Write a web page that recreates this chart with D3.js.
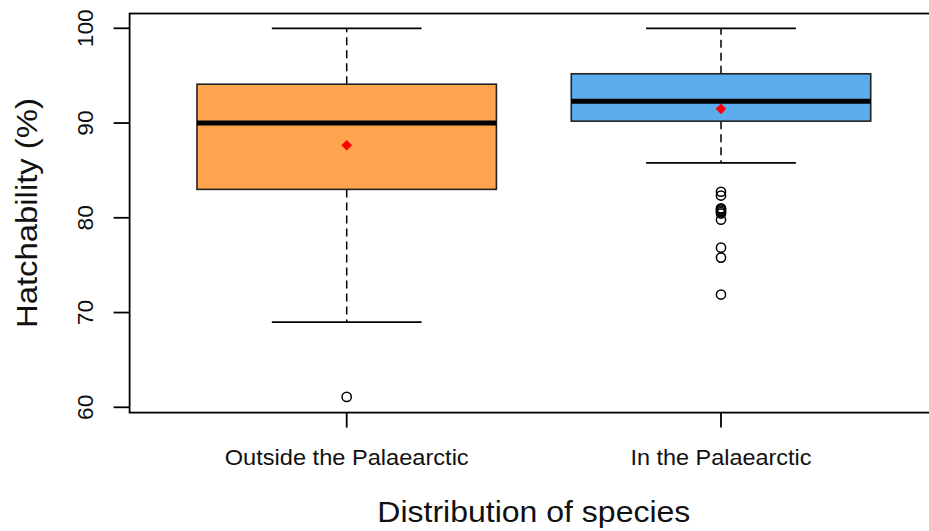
<!DOCTYPE html>
<html>
<head>
<meta charset="utf-8">
<script src="https://cdn.jsdelivr.net/npm/d3@7"></script>
<style>
  html, body { margin: 0; padding: 0; background: #fff; }
  svg { display: block; font-family: "Liberation Sans", Arial, sans-serif; }
</style>
</head>
<body>
<svg id="chart" width="929" height="531"></svg>
<script>
// Hatchability by species distribution
const groups = ["Outside the Palaearctic", "In the Palaearctic"];
const fills = ["#FFA54F", "#5CACEE"];
const lowerWhisker = [69.0, 85.8];
const q1 = [83.0, 90.2];
const medians = [90.0, 92.3];
const q3 = [94.1, 95.2];
const upperWhisker = [100, 100];
const means = [87.65, 91.5];
const outliersOutside = [61.1];
const outliersIn = [82.75, 82.35, 81.0, 80.9, 80.75, 80.6, 80.45, 79.8, 76.85, 75.8, 71.9];
const outliers = [outliersOutside, outliersIn];
const yTicks = [60, 70, 80, 90, 100];
const xTitle = "Distribution of species";
const yTitle = "Hatchability (%)";

const svg = d3.select("#chart");

const x = d3.scaleLinear().domain([1, 2]).range([346.7, 721]);
const y = d3.scaleLinear().domain([60, 100]).range([407.3, 28.3]);

const xLo = 0.42, xHi = 2.58;          // plot region in group units
const yLo = 59.44, yHi = 101.56;       // plot region in data units
const boxHalf = 0.4, capHalf = 0.2;

const g = svg.append("g");

// boxes
groups.forEach((name, i) => {
  const cx = x(i + 1);
  const bg = g.append("g");
  // dashed whiskers
  bg.append("line")
    .attr("x1", cx).attr("x2", cx)
    .attr("y1", y(q3[i])).attr("y2", y(upperWhisker[i]))
    .attr("stroke", "#000").attr("stroke-width", 1.5)
    .attr("stroke-dasharray", "8,5");
  bg.append("line")
    .attr("x1", cx).attr("x2", cx)
    .attr("y1", y(q1[i])).attr("y2", y(lowerWhisker[i]))
    .attr("stroke", "#000").attr("stroke-width", 1.5)
    .attr("stroke-dasharray", "8,5");
  // caps
  [upperWhisker[i], lowerWhisker[i]].forEach(v => {
    bg.append("line")
      .attr("x1", x(i + 1 - capHalf)).attr("x2", x(i + 1 + capHalf))
      .attr("y1", y(v)).attr("y2", y(v))
      .attr("stroke", "#000").attr("stroke-width", 1.8);
  });
  // box
  bg.append("rect")
    .attr("x", x(i + 1 - boxHalf))
    .attr("y", y(q3[i]))
    .attr("width", x(i + 1 + boxHalf) - x(i + 1 - boxHalf))
    .attr("height", y(q1[i]) - y(q3[i]))
    .attr("fill", fills[i])
    .attr("stroke", "#222").attr("stroke-width", 1.6);
  // median
  bg.append("line")
    .attr("x1", x(i + 1 - boxHalf)).attr("x2", x(i + 1 + boxHalf))
    .attr("y1", y(medians[i])).attr("y2", y(medians[i]))
    .attr("stroke", "#000").attr("stroke-width", 5);
  // outliers
  bg.selectAll("circle.out").data(outliers[i]).enter().append("circle")
    .attr("class", "out")
    .attr("cx", cx).attr("cy", d => y(d)).attr("r", 4.6)
    .attr("fill", "none").attr("stroke", "#000").attr("stroke-width", 1.5);
  // mean marker
  const my = y(means[i]), r = 5.3;
  bg.append("path")
    .attr("d", `M${cx},${my - r}L${cx + r},${my}L${cx},${my + r}L${cx - r},${my}Z`)
    .attr("fill", "#FF0000");
});

// plot frame
g.append("rect")
  .attr("x", x(xLo)).attr("y", y(yHi))
  .attr("width", x(xHi) - x(xLo)).attr("height", y(yLo) - y(yHi))
  .attr("fill", "none").attr("stroke", "#000").attr("stroke-width", 1.8);

// y axis ticks and labels
const yAxis = g.append("g");
yTicks.forEach(t => {
  yAxis.append("line")
    .attr("x1", x(xLo) - 16).attr("x2", x(xLo))
    .attr("y1", y(t)).attr("y2", y(t))
    .attr("stroke", "#000").attr("stroke-width", 1.8);
  yAxis.append("text")
    .attr("transform", `translate(93,${y(t)}) rotate(-90)`)
    .attr("text-anchor", "middle")
    .attr("font-size", 21.5)
    .attr("textLength", String(t).length * 12.6)
    .attr("lengthAdjust", "spacingAndGlyphs")
    .attr("fill", "#111")
    .text(t);
});

// x axis ticks and labels
const xAxis = g.append("g");
const xLabelWidths = [244, 181];
groups.forEach((name, i) => {
  xAxis.append("line")
    .attr("x1", x(i + 1)).attr("x2", x(i + 1))
    .attr("y1", y(yLo)).attr("y2", y(yLo) + 15)
    .attr("stroke", "#000").attr("stroke-width", 1.8);
  xAxis.append("text")
    .attr("x", x(i + 1)).attr("y", 465)
    .attr("text-anchor", "middle")
    .attr("font-size", 21.5)
    .attr("textLength", xLabelWidths[i])
    .attr("lengthAdjust", "spacingAndGlyphs")
    .attr("fill", "#111")
    .text(name);
});

// axis titles
svg.append("text")
  .attr("x", (x(xLo) + x(xHi)) / 2).attr("y", 522)
  .attr("text-anchor", "middle")
  .attr("font-size", 29)
  .attr("textLength", 313)
  .attr("lengthAdjust", "spacingAndGlyphs")
  .attr("fill", "#111")
  .text(xTitle);

svg.append("text")
  .attr("transform", `translate(37,${(y(yLo) + y(yHi)) / 2}) rotate(-90)`)
  .attr("text-anchor", "middle")
  .attr("font-size", 30)
  .attr("textLength", 230)
  .attr("lengthAdjust", "spacingAndGlyphs")
  .attr("fill", "#111")
  .text(yTitle);
</script>
</body>
</html>
